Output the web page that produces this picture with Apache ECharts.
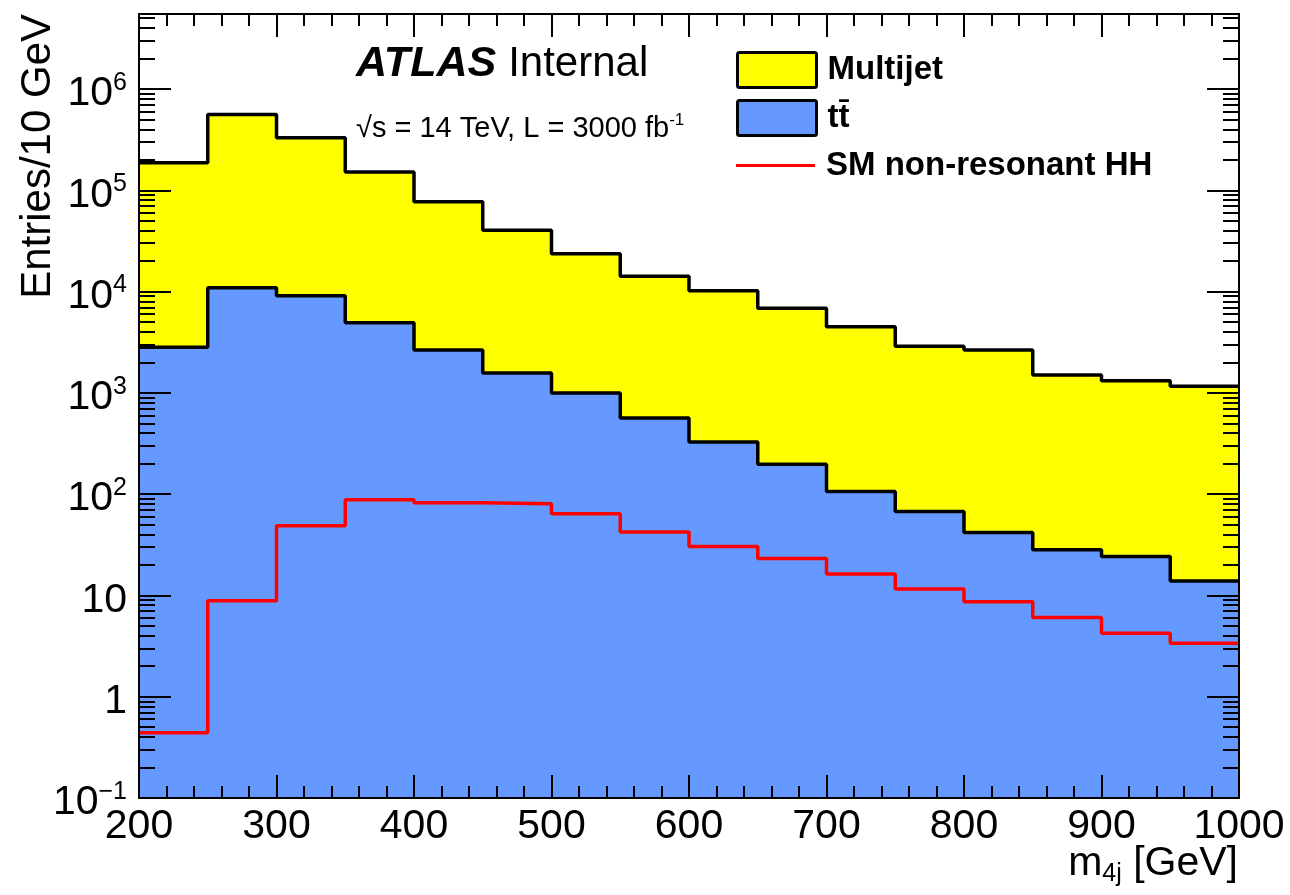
<!DOCTYPE html>
<html>
<head>
<meta charset="utf-8">
<script src="https://cdn.jsdelivr.net/npm/echarts@6/dist/echarts.min.js"></script>
<style>
html,body{margin:0;padding:0;background:#fff;}
#c{width:1290px;height:895px;}
</style>
</head>
<body>
<div id="c"></div>
<script>
// Bin edges (GeV) of m4j
const binEdges = [200,250,300,350,400,450,500,550,600,650,700,750,800,850,900,950,1000];
// Entries per bin
const multijet = [184200, 550000, 321000, 147000, 74300, 38800, 22600, 13600, 9870, 6640, 4400, 2810, 2610, 1470, 1296, 1146];
const ttbar = [2820, 10900, 9100, 4910, 2650, 1570, 998, 565, 327, 197, 106, 67.5, 41.9, 28.2, 24.2, 13.9];
const hh = [0.44, 8.85, 48.7, 88, 82.2, 80.4, 64, 42.2, 30.4, 23.2, 16.3, 11.6, 8.65, 6.05, 4.24, 3.38];
// Axis ticks
const xTicks = [200,300,400,500,600,700,800,900,1000];
const yMajor = [0.1,1,10,100,1000,10000,100000,1000000];
const yMinor = [];
for (let e = -1; e <= 6; e++) { for (let m = 2; m <= 9; m++) { yMinor.push(+(m*Math.pow(10,e)).toPrecision(3)); } }
const yMin = 0.1, yMax = 5.5e6;

const FONT = "'Liberation Sans', Arial, Helvetica, sans-serif";
const total = multijet.map((v,i)=>v+ttbar[i]);
function stepPts(vals){ return binEdges.map((x,i)=>[x, vals[Math.min(i, vals.length-1)]]); }

function yLabel(v){
  const e = Math.round(Math.log10(v));
  if (e === 0) return '1';
  if (e === 1) return '10';
  if (e < 0) return '10{sup|\u2212' + (-e) + '}';
  return '10{sup|' + e + '}';
}

const baseY = {
  type:'log', logBase:10, min:yMin, max:yMax, z:5,
  splitLine:{show:false},
  axisLine:{show:true, lineStyle:{color:'#000', width:2}},
};

const chart = echarts.init(document.getElementById('c'));
chart.setOption({
  animation:false,
  backgroundColor:'#fff',
  grid:{left:139, right:51, top:14, bottom:97, containLabel:false},
  xAxis:[
    {type:'value', min:200, max:1000, interval:100, position:'bottom', z:5,
     axisLine:{show:true, onZero:false, lineStyle:{color:'#000', width:2}},
     axisTick:{show:true, inside:true, length:23, lineStyle:{color:'#000', width:2}},
     minorTick:{show:true, splitNumber:5, length:12, lineStyle:{color:'#000', width:2}},
     splitLine:{show:false},
     axisLabel:{show:true, margin:8, color:'#000', fontSize:41, fontFamily:FONT,
       customValues: xTicks, formatter:(v)=>String(v)}},
    {type:'value', min:200, max:1000, interval:100, position:'top', z:5,
     axisLine:{show:true, onZero:false, lineStyle:{color:'#000', width:2}},
     axisTick:{show:true, inside:true, length:23, lineStyle:{color:'#000', width:2}},
     minorTick:{show:true, splitNumber:5, length:12, lineStyle:{color:'#000', width:2}},
     splitLine:{show:false},
     axisLabel:{show:false}}
  ],
  yAxis:[
    Object.assign({}, baseY, {position:'left',
      axisTick:{show:true, inside:true, length:32, customValues:yMajor, lineStyle:{color:'#000', width:2}},
      axisLabel:{show:true, margin:12, customValues:yMajor, color:'#000', fontSize:41, fontFamily:FONT,
        formatter:yLabel, padding:[10,0,0,0],
        rich:{sup:{fontSize:25, fontFamily:FONT, color:'#000', padding:[0,0,22,0]}}}}),
    Object.assign({}, baseY, {position:'left', axisLine:{show:false},
      axisTick:{show:true, inside:true, length:16, customValues:yMinor, lineStyle:{color:'#000', width:2}},
      axisLabel:{show:false}}),
    Object.assign({}, baseY, {position:'right',
      axisTick:{show:true, inside:true, length:32, customValues:yMajor, lineStyle:{color:'#000', width:2}},
      axisLabel:{show:false}}),
    Object.assign({}, baseY, {position:'right', axisLine:{show:false},
      axisTick:{show:true, inside:true, length:16, customValues:yMinor, lineStyle:{color:'#000', width:2}},
      axisLabel:{show:false}})
  ],
  legend:[
    {orient:'vertical', left:731, top:46, itemWidth:79, itemHeight:35, itemGap:10,
     selectedMode:false,
     textStyle:{fontSize:33, fontWeight:'bold', color:'#000', fontFamily:FONT, padding:[0,0,0,6]},
     data:[
       {name:'Multijet', icon:'path://M2,0 L77,0 Q79,0 79,2 L79,33 Q79,35 77,35 L2,35 Q0,35 0,33 L0,2 Q0,0 2,0 Z', itemStyle:{color:'#ffff00', borderColor:'#000', borderWidth:3}},
       {name:'tt\u0304', icon:'path://M2,0 L77,0 Q79,0 79,2 L79,33 Q79,35 77,35 L2,35 Q0,35 0,33 L0,2 Q0,0 2,0 Z', itemStyle:{color:'#6699ff', borderColor:'#000', borderWidth:3}}
     ]},
    {orient:'vertical', left:731, top:144, itemWidth:79, itemHeight:3,
     selectedMode:false,
     textStyle:{fontSize:33, fontWeight:'bold', color:'#000', fontFamily:FONT, padding:[0,0,0,6]},
     data:[{name:'SM non-resonant HH', icon:'rect', itemStyle:{color:'#ff0000', borderWidth:0}}]}
  ],
  graphic:[
    {type:'text', left:356, top:43, style:{text:'{b|ATLAS}{n|Internal}', fill:'#000',
      rich:{b:{font:"italic bold 43px "+FONT, fill:'#000', padding:[0,12,0,0]}, n:{font:"42px "+FONT, fill:'#000'}}}},
    {type:'text', left:356, top:112, style:{text:'\u221As = 14 TeV, L = 3000 fb{s|-1}', font:"29px "+FONT, fill:'#000',
      rich:{s:{font:"17px "+FONT, fill:'#000', padding:[0,0,16,0]}}}},
    {type:'text', x:38, y:14, rotation:Math.PI/2, style:{text:'Entries/10 GeV', font:"42px "+FONT, fill:'#000',
      align:'right', verticalAlign:'middle'}},
    {type:'text', right:52, top:843, style:{text:'m{sub|4j} [GeV]', font:"41px "+FONT, fill:'#000',
      rich:{sub:{font:"25px "+FONT, fill:'#000', padding:[22,0,0,0]}}}}
  ],
  series:[
    {name:'Multijet', type:'line', step:'end', data:stepPts(total), showSymbol:false, symbol:'none',
     xAxisIndex:0, yAxisIndex:0, z:2,
     itemStyle:{color:'#ffff00'}, lineStyle:{color:'#000', width:3.5},
     areaStyle:{color:'#ffff00', opacity:1, origin:'start'}},
    {name:'tt\u0304', type:'line', step:'end', data:stepPts(ttbar), showSymbol:false, symbol:'none',
     xAxisIndex:0, yAxisIndex:0, z:3,
     itemStyle:{color:'#6699ff'}, lineStyle:{color:'#000', width:3.5},
     areaStyle:{color:'#6699ff', opacity:1, origin:'start'}},
    {name:'SM non-resonant HH', type:'line', step:'end', data:stepPts(hh), showSymbol:false, symbol:'none',
     xAxisIndex:0, yAxisIndex:0, z:4,
     itemStyle:{color:'#ff0000'}, lineStyle:{color:'#ff0000', width:3.5}}
  ]
});
</script>
</body>
</html>
